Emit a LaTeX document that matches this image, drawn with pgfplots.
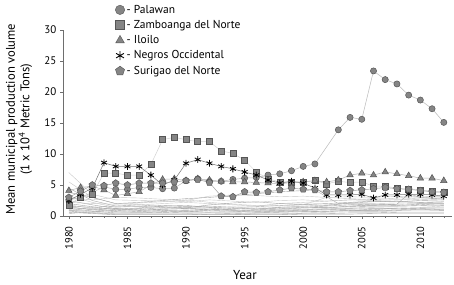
\documentclass[border=0pt]{standalone}
\usepackage{pgfplots}
\pgfplotsset{compat=1.18}
\usepackage{fontspec}
\setmainfont{PT Sans}
\definecolor{mfill}{HTML}{858585}
\definecolor{mdraw}{HTML}{555555}
\definecolor{axc}{HTML}{6E6E6E}
\begin{document}
\begin{tikzpicture}
\begin{axis}[
  scale only axis, width=389pt, height=186pt,
  xmin=1979.5, xmax=2012.7, ymin=0, ymax=30,
  axis x line*=bottom, axis y line*=left,
  axis line style={axc, line width=0.6pt},
  xtick={1980,1985,...,2010}, minor xtick={1980,...,2012},
  ytick={0,5,...,30},
  tick align=outside, major tick length=3pt, minor tick length=2pt,
  every tick/.style={axc, line width=0.5pt},
  /pgf/number format/assume math mode=true,
  /pgf/number format/1000 sep={},
  xticklabel style={rotate=90, anchor=east, font=\fontsize{10.5}{12}\selectfont, xshift=-4pt},
  yticklabel style={font=\fontsize{11}{12}\selectfont},
  ylabel={Mean municipal production volume\\(1 x 10\textsuperscript{4} Metric Tons)},
  ylabel style={at={(axis description cs:-0.113,0.52)}, anchor=center, align=center, font=\fontsize{12.6}{14.3}\selectfont},
  legend style={at={(0.134,1.146)}, anchor=north west, draw=none, fill=none, inner sep=0pt,
    font=\fontsize{11.5}{13}\selectfont, row sep=1.6pt},
  legend cell align=left,
  legend image code/.code={\draw[mark repeat=2,mark phase=2,#1] plot coordinates {(0cm,0cm)(0.25cm,0cm)(0.5cm,0cm)};},
  bg/.style={gray!45, line width=0.4pt, forget plot, no markers},
  bgd/.style={gray!70, line width=0.4pt, forget plot, no markers},
]
% legend images
\addlegendimage{only marks, mark=*, mark size=4.7pt, mark options={fill=mfill, draw=mdraw}}
\addlegendentry{- Palawan}
\addlegendimage{only marks, mark=square*, mark size=4.5pt, mark options={fill=mfill, draw=mdraw}}
\addlegendentry{- Zamboanga del Norte}
\addlegendimage{only marks, mark=triangle*, mark size=5pt, mark options={fill=mfill, draw=mdraw}}
\addlegendentry{- Iloilo}
\addlegendimage{only marks, mark=asterisk, mark size=4.5pt, mark options={draw=black, line width=0.9pt}}
\addlegendentry{- Negros Occidental}
\addlegendimage{only marks, mark=pentagon*, mark size=4.8pt, mark options={fill=mfill, draw=mdraw}}
\addlegendentry{- Surigao del Norte}
% background provinces
\addplot[bg] coordinates {(1980,7.0)(1982,3.5)(1984,2.6)(1986,2.5)(1988,2.4)(1990,2.3)(1992,2.6)(1994,2.4)(1996,2.2)(1998,2.5)(2000,2.6)(2002,2.4)(2004,2.6)(2006,2.8)(2008,2.7)(2010,2.9)(2012,2.8)};
\addplot[bg] coordinates {(1980,5.5)(1982,3.0)(1984,2.0)(1986,1.8)(1988,2.0)(1990,2.2)(1992,2.0)(1994,1.8)(1996,1.6)(1998,2.0)(2000,2.2)(2002,2.4)(2004,2.6)(2006,2.5)(2008,2.6)(2010,2.7)(2012,2.6)};
\addplot[bgd] coordinates {(1980,4.5)(1982,2.5)(1984,1.6)(1986,1.5)(1988,1.7)(1990,1.5)(1992,1.6)(1994,1.4)(1996,1.5)(1998,1.7)(2000,1.9)(2002,2.0)(2004,2.2)(2006,2.4)(2008,2.3)(2010,2.5)(2012,2.4)};
\addplot[bg] coordinates {(1980,3.2)(1982,2.2)(1984,1.4)(1986,1.6)(1988,1.2)(1990,1.4)(1992,1.3)(1994,1.5)(1996,1.2)(1998,1.4)(2000,1.6)(2002,1.8)(2004,2.0)(2006,2.0)(2008,2.1)(2010,2.2)(2012,2.3)};
\addplot[bgd] coordinates {(1980,2.5)(1982,1.8)(1984,1.2)(1986,1.0)(1988,1.4)(1990,1.2)(1992,1.0)(1994,1.1)(1996,1.3)(1998,1.2)(2000,1.4)(2002,1.6)(2004,1.8)(2006,1.7)(2008,1.9)(2010,2.0)(2012,2.0)};
\addplot[bgd] coordinates {(1980,2.0)(1982,1.5)(1984,1.0)(1986,1.2)(1988,1.0)(1990,0.9)(1992,1.1)(1994,0.9)(1996,1.0)(1998,1.1)(2000,1.3)(2002,1.4)(2004,1.5)(2006,1.6)(2008,1.6)(2010,1.7)(2012,1.8)};
\addplot[bg] coordinates {(1980,1.8)(1982,1.2)(1984,0.8)(1986,0.9)(1988,0.8)(1990,1.0)(1992,0.8)(1994,0.7)(1996,0.9)(1998,1.0)(2000,1.1)(2002,1.2)(2004,1.3)(2006,1.4)(2008,1.5)(2010,1.4)(2012,1.6)};
\addplot[bgd] coordinates {(1980,1.5)(1982,1.0)(1984,0.7)(1986,0.6)(1988,0.7)(1990,0.8)(1992,0.6)(1994,0.6)(1996,0.7)(1998,0.8)(2000,0.9)(2002,1.0)(2004,1.1)(2006,1.2)(2008,1.2)(2010,1.3)(2012,1.3)};
\addplot[bgd] coordinates {(1980,1.2)(1982,0.8)(1984,0.5)(1986,0.5)(1988,0.6)(1990,0.5)(1992,0.5)(1994,0.4)(1996,0.5)(1998,0.6)(2000,0.7)(2002,0.8)(2004,0.9)(2006,0.9)(2008,1.0)(2010,1.1)(2012,1.0)};
\addplot[bg] coordinates {(1980,1.0)(1982,0.6)(1984,0.4)(1986,0.4)(1988,0.4)(1990,0.4)(1992,0.3)(1994,0.3)(1996,0.4)(1998,0.4)(2000,0.5)(2002,0.6)(2004,0.7)(2006,0.7)(2008,0.8)(2010,0.8)(2012,0.8)};
\addplot[bgd] coordinates {(1980,0.8)(1982,0.5)(1984,0.3)(1986,0.3)(1988,0.3)(1990,0.3)(1992,0.2)(1994,0.2)(1996,0.3)(1998,0.3)(2000,0.4)(2002,0.4)(2004,0.5)(2006,0.5)(2008,0.6)(2010,0.6)(2012,0.6)};
\addplot[bgd] coordinates {(1980,0.6)(1982,0.4)(1984,0.2)(1986,0.2)(1988,0.2)(1990,0.2)(1992,0.2)(1994,0.2)(1996,0.2)(1998,0.2)(2000,0.3)(2002,0.3)(2004,0.3)(2006,0.4)(2008,0.4)(2010,0.4)(2012,0.4)};
\addplot[bg] coordinates {(1980,2.8)(1982,2.6)(1984,3.0)(1986,2.9)(1988,2.7)(1990,2.5)(1992,3.2)(1994,3.4)(1996,3.3)(1998,3.1)(2000,3.2)(2002,3.0)(2004,3.1)(2006,3.0)(2008,3.2)(2010,3.0)(2012,2.9)};
\addplot[bg] coordinates {(1980,2.2)(1982,2.0)(1984,1.9)(1986,2.1)(1988,2.3)(1990,2.6)(1992,2.2)(1994,1.9)(1996,1.7)(1998,1.6)(2000,1.8)(2002,3.0)(2004,2.8)(2006,2.6)(2008,2.9)(2010,3.2)(2012,3.1)};
\addplot[bgd] coordinates {(1980,1.6)(1982,1.4)(1984,1.6)(1986,1.8)(1988,1.5)(1990,1.3)(1992,1.8)(1994,2.1)(1996,2.3)(1998,2.0)(2000,1.9)(2002,1.7)(2004,2.1)(2006,2.3)(2008,2.4)(2010,2.2)(2012,2.1)};
\addplot[bgd] coordinates {(1980,1.1)(1982,1.3)(1984,1.1)(1986,1.3)(1988,1.6)(1990,1.7)(1992,1.4)(1994,1.2)(1996,1.1)(1998,1.4)(2000,1.5)(2002,1.3)(2004,1.6)(2006,1.8)(2008,1.7)(2010,1.9)(2012,1.7)};
\addplot[bgd] coordinates {(1980,0.9)(1982,1.0)(1984,1.2)(1986,0.9)(1988,1.1)(1990,1.2)(1992,1.3)(1994,1.0)(1996,0.8)(1998,0.9)(2000,1.0)(2002,1.1)(2004,1.2)(2006,1.0)(2008,1.3)(2010,1.2)(2012,1.1)};
\addplot[bgd] coordinates {(1980,0.4)(1982,0.7)(1984,0.9)(1986,0.7)(1988,0.9)(1990,0.7)(1992,0.9)(1994,0.8)(1996,0.6)(1998,0.7)(2000,0.8)(2002,0.7)(2004,0.9)(2006,0.8)(2008,0.9)(2010,1.0)(2012,0.9)};
\addplot[bgd] coordinates {(1980,3.8)(1982,3.0)(1984,2.0)(1986,2.2)(1988,2.5)(1990,2.8)(1992,3.0)(1994,3.3)(1996,3.6)(1998,3.9)(2000,4.1)(2001,4.2)(2003,2.0)(2006,1.8)(2008,1.9)(2009,3.6)(2010,3.0)(2012,2.7)};
% Palawan
\addplot[gray!55, line width=0.5pt, mark=*, mark size=3.1pt, mark options={fill=mfill, draw=mdraw}, forget plot] coordinates {
(1980,2.6)(1981,3.0)(1982,3.8)(1983,4.7)(1984,4.3)(1985,4.3)(1986,4.6)(1987,4.6)(1988,4.4)(1989,4.5)(1990,5.7)(1991,6.0)(1992,5.6)(1993,5.6)(1994,5.9)(1995,6.1)(1996,6.2)(1997,6.6)(1998,6.8)(1999,7.3)(2000,8.0)(2001,8.4)(2003,13.9)(2004,15.9)(2005,15.6)(2006,23.4)(2007,22.0)(2008,21.3)(2009,19.5)(2010,18.7)(2011,17.3)(2012,15.1)};
% Zamboanga del Norte
\addplot[gray!35, line width=0.5pt, mark=square*, mark size=3pt, mark options={fill=mfill, draw=mdraw}, forget plot] coordinates {
(1980,1.8)(1981,3.0)(1982,3.5)(1983,6.9)(1984,6.9)(1985,6.6)(1986,6.6)(1987,8.3)(1988,12.3)(1989,12.7)(1990,12.3)(1991,12.0)(1992,12.0)(1993,10.5)(1994,10.1)(1995,9.0)(1996,7.1)(1997,6.0)(1998,5.5)(1999,5.5)(2000,5.5)(2001,5.7)(2002,5.2)(2003,5.6)(2004,5.4)(2005,5.5)(2006,4.8)(2007,4.8)(2008,4.5)(2009,4.3)(2010,4.2)(2011,4.0)(2012,3.9)};
% Iloilo
\addplot[gray!60, line width=0.5pt, mark=triangle*, mark size=3.7pt, mark options={fill=mfill, draw=mdraw}, forget plot] coordinates {
(1980,4.1)(1981,4.6)(1982,4.8)(1983,4.2)(1984,3.3)(1985,3.6)(1986,3.9)(1987,5.0)(1988,5.9)(1989,6.0)(1990,5.7)(1991,6.0)(1992,5.8)(1993,5.6)(1994,5.5)(1995,5.5)(1996,5.4)(1997,5.3)(1998,5.2)(1999,5.4)(2000,5.5)(2001,5.7)(2002,5.5)(2003,5.8)(2004,6.6)(2005,6.9)(2006,6.6)(2007,7.1)(2008,6.8)(2009,6.5)(2010,6.1)(2011,6.1)(2012,5.7)};
% Negros Occidental
\addplot[gray!90!black, line width=0.5pt, mark=asterisk, mark size=3.4pt, mark options={draw=black, line width=0.8pt}, forget plot] coordinates {
(1980,2.5)(1981,3.5)(1982,4.5)(1983,8.6)(1984,8.0)(1985,8.0)(1986,8.0)(1987,6.6)(1988,5.0)(1989,5.8)(1990,8.5)(1991,9.1)(1992,8.5)(1993,8.0)(1994,7.6)(1995,7.1)(1996,6.6)(1997,5.8)(1998,5.3)(1999,5.6)(2000,5.3)(2001,4.5)(2002,3.4)(2003,3.4)(2004,3.4)(2005,3.5)(2006,2.9)(2007,3.4)(2008,3.4)(2009,3.5)(2010,3.5)(2011,3.4)(2012,3.2)};
% Surigao del Norte
\addplot[gray!75, line width=0.5pt, mark=pentagon*, mark size=3.5pt, mark options={fill=mfill, draw=mdraw}, forget plot] coordinates {
(1980,3.0)(1981,4.0)(1982,5.0)(1983,4.9)(1984,5.3)(1985,5.0)(1986,5.3)(1987,5.3)(1988,5.3)(1989,5.5)(1990,5.7)(1991,5.9)(1992,5.4)(1993,3.2)(1994,3.1)(1995,3.9)(1996,3.8)(1997,3.9)(1998,4.2)(1999,4.5)(2000,4.3)(2001,4.2)(2002,3.9)(2003,3.9)(2004,4.1)(2005,4.2)(2006,4.4)(2007,4.6)(2008,4.4)(2009,4.3)(2010,4.1)(2011,3.9)(2012,3.8)};
\end{axis}
\node[font=\fontsize{13}{14}\selectfont, anchor=center] at ([xshift=182pt,yshift=-59pt]current axis.south west) {Year};
\path ([xshift=-63pt,yshift=-68pt]current axis.south west) rectangle ([xshift=391pt,yshift=216pt]current axis.south west);
\end{tikzpicture}
\end{document}
